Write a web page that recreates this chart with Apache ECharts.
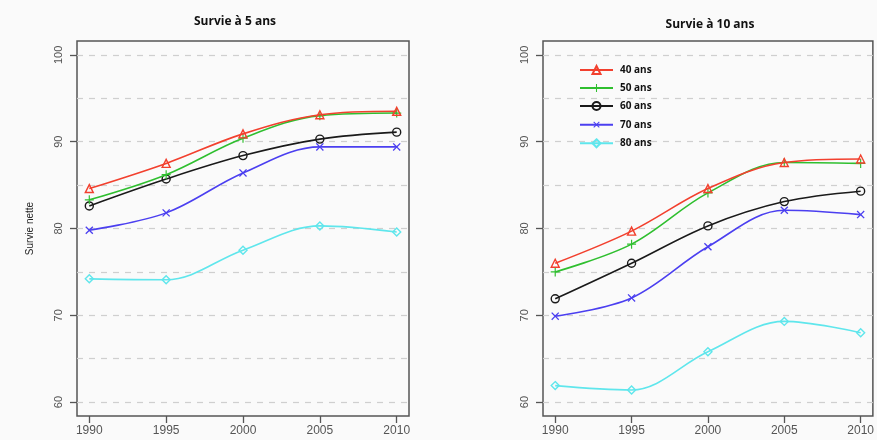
<!DOCTYPE html>
<html><head><meta charset="utf-8">
<script src="https://cdn.jsdelivr.net/npm/echarts@6/dist/echarts.min.js"></script>
<style>html,body{margin:0;padding:0;background:#fafafa}#c{width:877px;height:440px}</style>
</head><body><div id="c"></div>
<script>
const years = [1990, 1995, 2000, 2005, 2010];
const seriesNames = ['40 ans', '50 ans', '60 ans', '70 ans', '80 ans'];
// Survie à 5 ans
const s5_40 = [84.6, 87.5, 90.9, 93.1, 93.5];
const s5_50 = [83.3, 86.2, 90.4, 93.0, 93.3];
const s5_60 = [82.6, 85.7, 88.4, 90.3, 91.1];
const s5_70 = [79.8, 81.8, 86.4, 89.4, 89.4];
const s5_80 = [74.2, 74.1, 77.5, 80.3, 79.6];
// Survie à 10 ans
const s10_40 = [76.0, 79.7, 84.6, 87.6, 88.0];
const s10_50 = [75.0, 78.2, 84.1, 87.6, 87.5];
const s10_60 = [71.9, 76.0, 80.3, 83.1, 84.3];
const s10_70 = [69.9, 72.0, 77.9, 82.1, 81.6];
const s10_80 = [61.9, 61.4, 65.8, 69.3, 68.0];
const yTicks = [60, 70, 80, 90, 100];
const yGridLines = [60, 65, 70, 75, 80, 85, 90, 95, 100];
const titles = ['Survie à 5 ans', 'Survie à 10 ans'];
const yAxisTitle = 'Survie nette';

const colors = ['#f2402e', '#2fbf2f', '#1a1a1a', '#4b3ff0', '#5fe6ec'];
const plusPath = 'path://M4.35,0H5.65V4.35H10V5.65H5.65V10H4.35V5.65H0V4.35H4.35Z';
const symbols = ['triangle', plusPath, 'circle', plusPath, 'diamond'];
const rotates = [0, 0, 0, 45, 0];
const openSym = [true, false, true, false, true];
const sizes = [8, 9, 8, 10, 8];

const panels = [[s5_40, s5_50, s5_60, s5_70, s5_80], [s10_40, s10_50, s10_60, s10_70, s10_80]];

const font = 'Liberation Sans, Arial, sans-serif';
const grids = [
  {left: 77, right: 468, top: 41, bottom: 24, show: true, borderColor: '#555', borderWidth: 1.5, backgroundColor: 'transparent'},
  {left: 543, right: 2, top: 41, bottom: 24, show: true, borderColor: '#555', borderWidth: 1.5, backgroundColor: 'transparent'}
];
const xAxes = grids.map((g, i) => ({
  type: 'value', gridIndex: i, min: 1989.2, max: 2010.8,
  axisLine: {show: false},
  axisTick: {show: true, length: 7, lineStyle: {color: '#555', width: 1.3}, customValues: years},
  axisLabel: {customValues: years, formatter: v => String(v), color: '#555', fontSize: 12, fontFamily: font, margin: 9},
  splitLine: {show: false}
}));
const yAxes = grids.map((g, i) => ({
  type: 'value', gridIndex: i, min: 58.4, max: 101.6,
  name: i === 0 ? yAxisTitle : '', nameLocation: 'middle', nameGap: 42, nameRotate: 90,
  nameTextStyle: {fontSize: 10, color: '#222', fontFamily: font},
  axisLine: {show: false},
  axisTick: {show: true, length: 7, lineStyle: {color: '#555', width: 1.3}, customValues: yTicks},
  axisLabel: {customValues: yTicks, formatter: v => String(v), rotate: 90, color: '#555', fontSize: 11, fontFamily: font, margin: 13},
  splitLine: {show: false}
}));

const series = [];
panels.forEach((panel, p) => {
  panel.forEach((vals, k) => {
    const s = {
      type: 'line', name: seriesNames[k], xAxisIndex: p, yAxisIndex: p,
      data: years.map((y, j) => [y, vals[j]]),
      smooth: 0.35,
      symbol: symbols[k], symbolSize: sizes[k], symbolRotate: rotates[k],
      showSymbol: true,
      lineStyle: {color: colors[k], width: 1.6},
      itemStyle: openSym[k] ? {color: 'rgba(255,255,255,0)', borderColor: colors[k], borderWidth: 1.4}
                           : {color: colors[k], borderWidth: 0},
      emphasis: {disabled: true},
      z: 5 - k
    };
    if (k === 0) {
      s.markLine = {
        silent: true, symbol: 'none', label: {show: false},
        lineStyle: {type: [6, 6], color: '#cfcfcf', width: 1.2},
        data: yGridLines.map(v => ({yAxis: v})),
        z: 1
      };
    }
    series.push(s);
  });
});

const chart = echarts.init(document.getElementById('c'));
chart.setOption({
  backgroundColor: '#fafafa',
  animation: false,
  title: [
    {text: titles[0], left: 230, top: 11, textAlign: 'center', textStyle: {fontSize: 12, fontWeight: 'bold', color: '#111', fontFamily: 'Open Sans, sans-serif'}},
    {text: titles[1], left: 705, top: 14, textAlign: 'center', textStyle: {fontSize: 12, fontWeight: 'bold', color: '#111', fontFamily: 'Open Sans, sans-serif'}}
  ],
  legend: {
    data: seriesNames, orient: 'vertical', left: 574, top: 60, itemGap: 8,
    itemWidth: 33, itemHeight: 10,
    textStyle: {fontSize: 10, fontWeight: 'bold', color: '#111', fontFamily: 'Open Sans, sans-serif', padding: [0, 0, 0, 2]},
    selectedMode: false
  },
  grid: grids, xAxis: xAxes, yAxis: yAxes, series: series
});
</script></body></html>
